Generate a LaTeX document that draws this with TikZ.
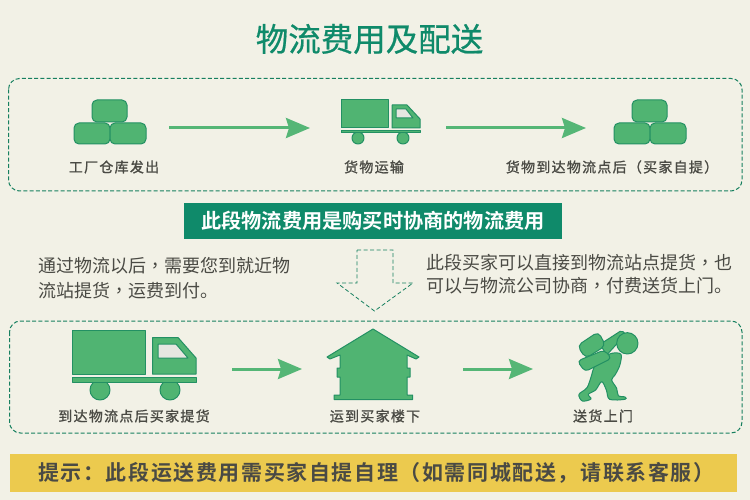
\documentclass[tikz,border=0pt]{standalone}
\usepackage{fontspec}
\usetikzlibrary{arrows.meta}
\newfontfamily\cjk[BoldFont=* Bold]{Noto Sans CJK SC}
\newfontfamily\cjktc{Noto Sans CJK TC}
\newfontfamily\cjktitle[FakeBold=0.6]{Noto Sans CJK SC}
\newfontfamily\cjklab[FakeBold=1.2,LetterSpace=9]{Noto Sans CJK SC}
\newfontfamily\cjktip[BoldFont=* Bold,LetterSpace=7.6]{Noto Sans CJK SC}
\newcommand{\cmm}{{\cjktc ，}}
\definecolor{bgc}{HTML}{F2F1E6}
\definecolor{teal}{HTML}{0F8A6A}
\definecolor{frame}{HTML}{17805F}
\definecolor{iconf}{HTML}{50B472}
\definecolor{icond}{HTML}{239063}
\definecolor{arrowc}{HTML}{55B676}
\definecolor{txt}{HTML}{4A4A44}
\definecolor{yel}{HTML}{ECCA4E}
\definecolor{glass}{HTML}{E6E6E0}
\tikzset{
  dashframe/.style={draw=frame,line width=1pt,dash pattern=on 4pt off 2.2pt,rounded corners=11pt},
  icon/.style={draw=icond,fill=iconf,line width=1pt,line join=round},
  anchorbox/.style={inner sep=0pt,outer sep=0pt,minimum height=44pt},
  flow/.style={draw=arrowc,line width=3pt,-{Stealth[length=24pt,width=20pt,inset=3pt]}},
  lab/.style={text=txt,inner sep=0pt,font=\cjklab\fontsize{14}{14}\selectfont},
  para/.style={text=txt,inner sep=0pt,anchor=west,font=\cjk\fontsize{18}{18}\selectfont},
  pics/ware/.style={code={
    \draw[icon,rounded corners=5pt] (-18,-28) rectangle (17,-6);
    \draw[icon,rounded corners=5pt] (-36,-5) rectangle (0,16);
    \draw[icon,rounded corners=5pt] (0,-5) rectangle (36,16);
  }}
}
\begin{document}
\begin{tikzpicture}[x=1pt,y=-1pt]
\useasboundingbox (0,0) rectangle (750,500);
\fill[bgc] (0,0) rectangle (750,500);
% title
\node[text=teal,inner sep=0pt,font=\cjktitle\fontsize{32.5}{33}\selectfont] (title) at (369.5,39) {物流费用及配送};
% frames
\draw[dashframe] (8.5,78.5) rectangle (742,191);
\draw[dashframe] (9.5,321) rectangle (742,433);
% anchor nodes for icons
\node[anchorbox,minimum width=72pt] (wa) at (110,128) {};
\node[anchorbox,minimum width=80pt] (ta) at (380,128) {};
\node[anchorbox,minimum width=72pt] (wb) at (650,128) {};
\node[anchorbox,minimum width=124pt] (tb) at (134,369) {};
\node[anchorbox,minimum width=92pt] (ho) at (373,369) {};
\node[anchorbox,minimum width=60pt] (pe) at (608,369) {};
% warehouses
\pic at (110,128) {ware};
\pic at (650,128) {ware};
% small truck
\draw[icon] (341,100) rectangle (388,128);
\draw[icon] (392,105) -- (407,105) -- (420,119) -- (420,128) -- (392,128) -- cycle;
\draw[icon,fill=glass] (396,109) -- (406,109) -- (413,118) -- (396,118) -- cycle;
\draw[icon] (358,138) circle (6);
\draw[icon] (403,138) circle (6);
\draw[icon] (341,130.5) rectangle (420,133);
% big truck
\draw[icon] (72.5,330) rectangle (145,374);
\draw[icon] (152.5,337.5) -- (178,337.5) -- (196,358) -- (196,374) -- (152.5,374) -- cycle;
\draw[icon,fill=glass] (158,344) -- (176,344) -- (188,358) -- (158,358) -- cycle;
\draw[icon] (100,390) circle (10);
\draw[icon] (170,390) circle (10);
\draw[icon] (72.5,377.5) rectangle (196,382);
% house
\draw[icon] (373,329) -- (419,357) -- (416,359) -- (407,355) -- (407,368) -- (410,368) -- (410,377) -- (407,377) -- (407,395) -- (412.5,395) -- (412.5,399.5) -- (334,399.5) -- (334,395) -- (340,395) -- (340,377) -- (337,377) -- (337,368) -- (340,368) -- (340,355) -- (330,359) -- (327,357) -- cycle;
% person
\begin{scope}[shift={(565,325)},scale=1/3]
\draw[icon,rounded corners=2pt] (105,58) -- (170,16) -- (182,28) -- (125,90) -- cycle;
\draw[icon,smooth cycle,tension=0.55] plot coordinates {(112,100) (140,85) (168,88) (164,122) (150,150) (140,165) (155,190) (160,212) (180,216) (180,223) (134,223) (124,195) (110,170) (92,195) (70,208) (78,222) (52,228) (42,208) (66,188) (80,150) (88,125)};
\draw[icon,rounded corners=5pt] (37,62) -- (100,20) -- (122,62) -- (62,100) -- cycle;
\draw[icon,rounded corners=4pt] (37,108) -- (118,75) -- (140,100) -- (60,140) -- cycle;
\draw[icon] (187,55) circle (32);
\end{scope}
% flow arrows
\draw[flow,shorten <=23pt,shorten >=30pt] (wa) -- (ta);
\draw[flow,shorten <=26pt,shorten >=28pt] (ta) -- (wb);
\draw[flow,shorten <=36pt,shorten >=25pt] (tb) -- (ho);
\draw[flow,shorten <=44pt,shorten >=45pt] (ho) -- (pe);
% labels
\node[lab] (l1) at (114,167) {工厂仓库发出};
\node[lab] (l2) at (374,167) {货物运输};
\node[lab] (l3) at (612,167) {货物到达物流点后（买家自提）};
\node[lab] (l4) at (134,416) {到达物流点后买家提货};
\node[lab] (l5) at (375,416) {运到买家楼下};
\node[lab] (l6) at (603,416) {送货上门};
% green banner
\node[fill=teal,text=white,inner sep=0pt,minimum width=378pt,minimum height=36pt,font=\cjk\bfseries\fontsize{20.2}{20}\selectfont] (ban) at (373,221) {此段物流费用是购买时协商的物流费用};
% paragraphs
\node[para] (p1) at (38,266) {通过物流以后\cmm 需要您到就近物};
\node[para] (p2) at (38,291) {流站提货\cmm 运费到付。};
\node[para] (p3) at (426,263) {此段买家可以直接到物流站点提货\cmm 也};
\node[para] (p4) at (426,286) {可以与物流公司协商\cmm 付费送货上门。};
% hollow down arrow
\draw[draw=frame,line width=0.8pt,dash pattern=on 4pt off 2.5pt] (357,250) -- (393,250) -- (393,283) -- (413,283) -- (374.5,311) -- (337,283) -- (357,283) -- cycle;
% tip banner
\fill[yel] (10,454) rectangle (737,492);
\node[text=txt,inner sep=0pt,anchor=west,font=\cjktip\bfseries\fontsize{21}{21}\selectfont] (tip) at (38,473) {提示：此段运送费用需买家自提自理（如需同城配送，请联系客服）};
\end{tikzpicture}
\end{document}
